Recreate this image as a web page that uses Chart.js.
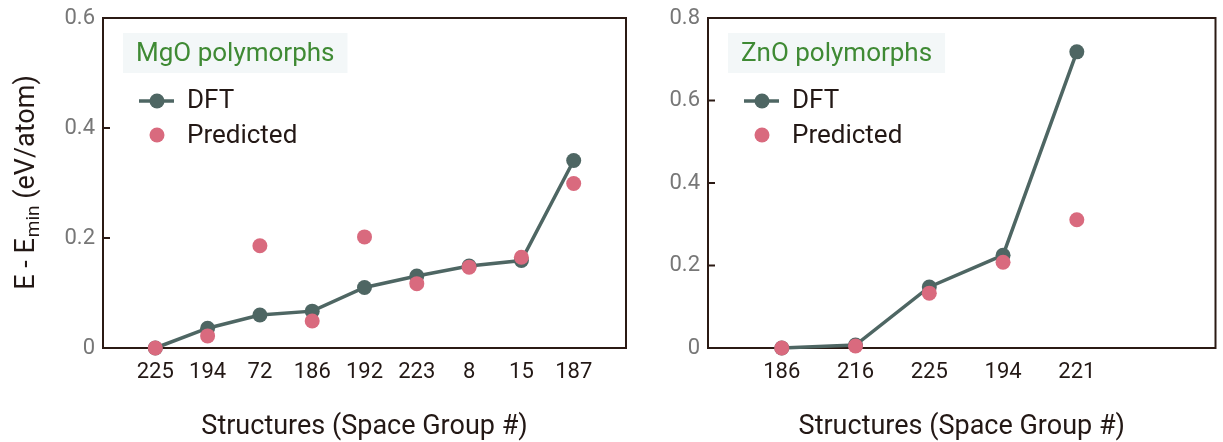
<!DOCTYPE html>
<html>
<head>
<meta charset="utf-8">
<script src="https://cdn.jsdelivr.net/npm/chart.js@4.4.0/dist/chart.umd.min.js"></script>
<style>
  body { margin: 0; background: #fff; width: 1223px; height: 442px; overflow: hidden; }
  .box { position: absolute; top: 0; height: 442px; }
</style>
</head>
<body>
<div class="box" style="left:0;width:640px"><canvas id="mgo" width="640" height="442"></canvas></div>
<div class="box" style="left:610px;width:613px"><canvas id="zno" width="613" height="442"></canvas></div>
<script>
// MgO panel
var mgoLabels = ['225', '194', '72', '186', '192', '223', '8', '15', '187'];
var mgoDFT = [0, 0.036, 0.06, 0.067, 0.11, 0.131, 0.149, 0.159, 0.341];
var mgoPredicted = [0, 0.022, 0.186, 0.049, 0.202, 0.117, 0.147, 0.165, 0.299];
var mgoYTicks = [0, 0.2, 0.4, 0.6];

// ZnO panel
var znoLabels = ['186', '216', '225', '194', '221'];
var znoDFT = [0, 0.007, 0.148, 0.225, 0.718];
var znoPredicted = [0, 0.005, 0.133, 0.208, 0.311];
var znoYTicks = [0, 0.2, 0.4, 0.6, 0.8];

var FONT = 'Roboto, "DejaVu Sans", sans-serif';
var INK = '#231815';
var FRAME = '#2b1a14';
var DFT_C = '#4e6663';
var PRED_C = '#d96a7e';
var GREEN = '#3f8a34';

var framePlugin = {
	id: 'frame',
	beforeDatasetsDraw: function(chart) {
		var a = chart.chartArea, ctx = chart.ctx, y = chart.scales.y;
		ctx.save();
		ctx.strokeStyle = FRAME;
		ctx.lineWidth = 2;
		ctx.strokeRect(a.left, a.top, a.right - a.left, a.bottom - a.top);
		y.ticks.forEach(function(t) {
			var py = y.getPixelForValue(t.value);
			ctx.beginPath();
			ctx.moveTo(a.left, py);
			ctx.lineTo(a.left + 7, py);
			ctx.stroke();
		});
		ctx.restore();
	}
};

function legendPlugin(title) {
	return {
		id: 'boxLegend',
		afterDraw: function(chart) {
			var ctx = chart.ctx, L = chart.chartArea.left;
			var ds = chart.data.datasets;
			ctx.save();
			ctx.font = '26px ' + FONT;
			var tw = ctx.measureText(title).width;
			ctx.fillStyle = '#f3f7f8';
			ctx.fillRect(L + 20, 33, tw + 26, 40);
			ctx.fillStyle = GREEN;
			ctx.textBaseline = 'middle';
			ctx.fillText(title, L + 33, 54);

			// DFT entry: line with marker
			ctx.strokeStyle = DFT_C;
			ctx.lineWidth = 3.5;
			ctx.beginPath();
			ctx.moveTo(L + 36, 101);
			ctx.lineTo(L + 71, 101);
			ctx.stroke();
			ctx.fillStyle = DFT_C;
			ctx.beginPath();
			ctx.arc(L + 54, 101, 7.5, 0, Math.PI * 2);
			ctx.fill();
			// Predicted entry: marker only
			ctx.fillStyle = PRED_C;
			ctx.beginPath();
			ctx.arc(L + 54, 135, 7.5, 0, Math.PI * 2);
			ctx.fill();

			ctx.fillStyle = INK;
			ctx.fillText(ds[1].label, L + 84, 101);
			ctx.fillText(ds[0].label, L + 84, 136);
			ctx.restore();
		}
	};
}

var yTitlePlugin = {
	id: 'yTitle',
	afterDraw: function(chart) {
		var a = chart.chartArea, ctx = chart.ctx;
		var p1 = 'E - E', sub = 'min', p2 = ' (eV/atom)';
		ctx.save();
		ctx.translate(27, (a.top + a.bottom) / 2);
		ctx.rotate(-Math.PI / 2);
		ctx.fillStyle = INK;
		ctx.textBaseline = 'middle';
		ctx.font = '27px ' + FONT;
		var w1 = ctx.measureText(p1).width, w3 = ctx.measureText(p2).width;
		ctx.font = '19px ' + FONT;
		var w2 = ctx.measureText(sub).width;
		var x = -(w1 + w2 + w3) / 2;
		ctx.font = '27px ' + FONT;
		ctx.fillText(p1, x, 0);
		ctx.font = '19px ' + FONT;
		ctx.fillText(sub, x + w1 + 1, 7);
		ctx.font = '27px ' + FONT;
		ctx.fillText(p2, x + w1 + w2 + 1, 0);
		ctx.restore();
	}
};

function makeChart(id, title, labels, dft, pred, yTicks, xMax, leftWidth, rightPad, withYTitle) {
	var toXY = function(arr) { return arr.map(function(v, i) { return {x: i, y: v}; }); };
	var plugins = [framePlugin, legendPlugin(title)];
	if (withYTitle) plugins.push(yTitlePlugin);
	return new Chart(document.getElementById(id), {
		type: 'line',
		data: {
			datasets: [
				{
					label: 'Predicted',
					data: toXY(pred),
					showLine: false,
					backgroundColor: PRED_C,
					borderColor: PRED_C,
					pointRadius: 7.5,
					pointHoverRadius: 7.5,
					pointBorderWidth: 0,
					clip: false,
					order: 0
				},
				{
					label: 'DFT',
					data: toXY(dft),
					borderColor: DFT_C,
					backgroundColor: DFT_C,
					borderWidth: 3.5,
					pointRadius: 7.5,
					pointHoverRadius: 7.5,
					pointBorderWidth: 0,
					clip: false,
					order: 1
				}
			]
		},
		options: {
			responsive: false,
			animation: false,
			events: [],
			layout: { padding: { top: 18, right: rightPad, left: 0, bottom: 0 } },
			plugins: { legend: { display: false }, tooltip: { enabled: false } },
			scales: {
				x: {
					type: 'linear',
					min: -1,
					max: xMax,
					grid: { display: false },
					border: { display: false },
					afterBuildTicks: function(s) { s.ticks = labels.map(function(l, i) { return {value: i}; }); },
					ticks: {
						callback: function(v) { return labels[v]; },
						color: INK,
						font: { family: FONT, size: 22 },
						padding: 3,
						maxRotation: 0,
						autoSkip: false
					},
					title: {
						display: true,
						text: 'Structures (Space Group #)',
						color: INK,
						font: { family: FONT, size: 27 },
						padding: { top: 0, bottom: -1 }
					},
					afterFit: function(s) { s.height = 94; }
				},
				y: {
					min: 0,
					max: yTicks[yTicks.length - 1],
					grid: { display: false },
					border: { display: false },
					afterBuildTicks: function(s) { s.ticks = yTicks.map(function(v) { return {value: v}; }); },
					ticks: {
						callback: function(v) { return v === 0 ? '0' : v.toFixed(1); },
						color: '#777',
						font: { family: FONT, size: 22 },
						padding: 0
					},
					afterFit: function(s) { s.width = leftWidth; }
				}
			}
		},
		plugins: plugins
	});
}

makeChart('mgo', 'MgO polymorphs', mgoLabels, mgoDFT, mgoPredicted, mgoYTicks, 9, 103, 14, true);
makeChart('zno', 'ZnO polymorphs', znoLabels, znoDFT, znoPredicted, znoYTicks, 5.88, 98, 1, false);
</script>
</body>
</html>
